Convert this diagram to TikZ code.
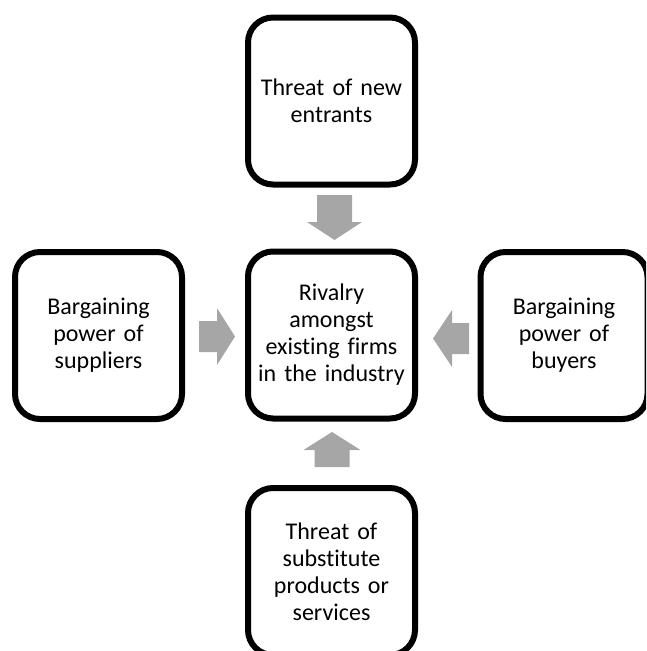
\documentclass[tikz,border=0pt]{standalone}
\usepackage{fontspec}
\setmainfont{Carlito}[Ligatures=NoCommon]
\definecolor{arrowgray}{RGB}{166,166,166}
\begin{document}
\begin{tikzpicture}[x=1pt,y=-1pt,
  box/.style={draw=black, line width=6pt, rounded corners=25pt,
    minimum width=167pt, minimum height=167pt, align=center,
    inner sep=0pt, text width=160pt,
    font=\fontsize{24}{27}\selectfont},
  blockarrow/.style={fill=arrowgray, draw=none}]
\useasboundingbox (0,0) rectangle (646,651);
\clip (0,0) rectangle (646,651);
\node[box] (top) at (331.5,101) {Threat of new\\entrants};
\node[box] (mid) at (331.5,335) {Rivalry\\amongst\\existing firms\\in the industry};
\node[box] (left) at (98.5,335.5) {Bargaining\\power of\\suppliers};
\node[box] (right) at (564,335.5) {Bargaining\\power of\\buyers};
\node[box] (bot) at (331.5,571.5) {Threat of\\substitute\\products or\\services};
% block arrows
\coordinate (adown) at (334.5,217.5);
\coordinate (aright) at (217,336.5);
\coordinate (aleft) at (451,338.5);
\coordinate (aup) at (332,449.5);
\begin{scope}[shift={(adown)}]
  \fill[blockarrow] (-17.5,-22.5) -- (17.5,-22.5) -- (17.5,4.5) -- (27.5,4.5)
    -- (0,22.5) -- (-27.5,4.5) -- (-17.5,4.5) -- cycle;
\end{scope}
\begin{scope}[shift={(aright)}]
  \fill[blockarrow] (-18,-15.5) -- (0,-15.5) -- (0,-28.5) -- (18,0)
    -- (0,28.5) -- (0,15.5) -- (-18,15.5) -- cycle;
\end{scope}
\begin{scope}[shift={(aleft)}]
  \fill[blockarrow] (18,-15.5) -- (1,-15.5) -- (1,-28.5) -- (-18,0)
    -- (1,28.5) -- (1,15.5) -- (18,15.5) -- cycle;
\end{scope}
\begin{scope}[shift={(aup)}]
  \fill[blockarrow] (-17.5,17.5) -- (17.5,17.5) -- (17.5,0.5) -- (28.5,0.5)
    -- (0,-17.5) -- (-28.5,0.5) -- (-17.5,0.5) -- cycle;
\end{scope}
\end{tikzpicture}
\end{document}
